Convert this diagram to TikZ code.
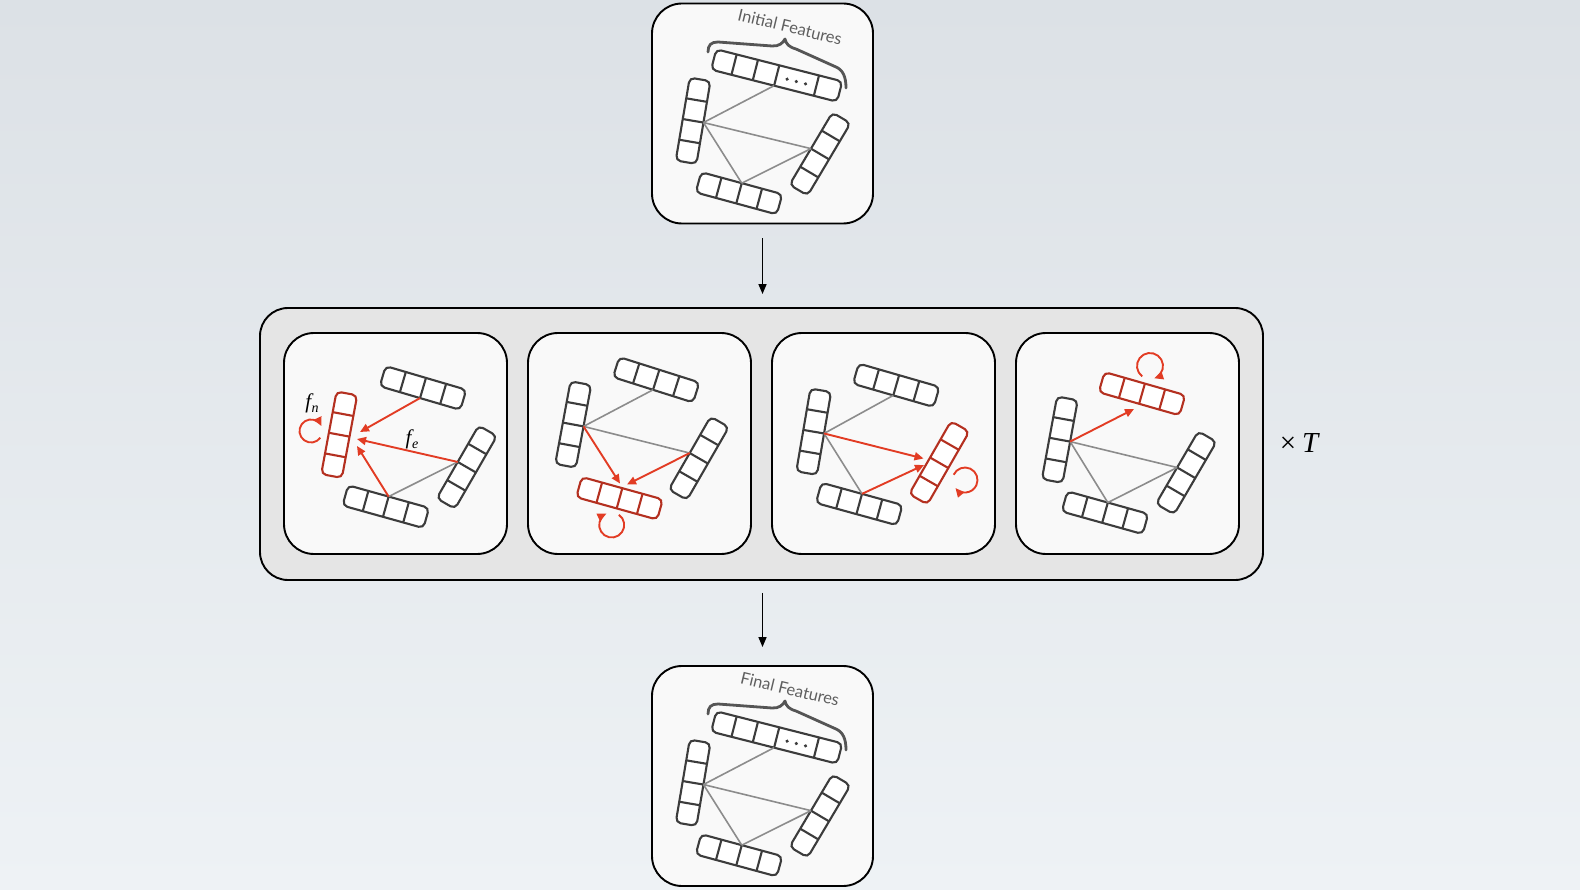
\documentclass[tikz,border=0pt]{standalone}
\usepackage{fontspec}
\newfontfamily\labfont{Lato}
\newfontfamily\mathlikefont{Liberation Serif}
\usetikzlibrary{arrows.meta}
\definecolor{bgtop}{RGB}{220,225,230}
\definecolor{bgbot}{RGB}{238,242,245}
\definecolor{barc}{RGB}{60,60,60}
\definecolor{barred}{RGB}{180,48,32}
\definecolor{arrred}{RGB}{226,60,36}
\definecolor{edgegray}{RGB}{140,140,140}
\definecolor{panelfill}{RGB}{249,249,249}
\definecolor{outerfill}{RGB}{229,229,229}
\definecolor{labgray}{RGB}{95,95,95}
\definecolor{bracec}{RGB}{85,85,85}
\tikzset{
  box/.style={draw=black, line width=1.9pt, fill=panelfill, rounded corners=30pt, inner sep=0pt},
  outerbox/.style={draw=black, line width=1.9pt, fill=outerfill, rounded corners=28pt, inner sep=0pt},
  barline/.style={draw=barc, line width=2.1pt},
  redbar/.style={draw=barred},
  gedge/.style={draw=edgegray, line width=1.6pt},
  redarrow/.style={draw=arrred, line width=1.9pt, -{Triangle[length=9pt,width=8pt]}},
  mainarrow/.style={draw=black, line width=1.5pt, -{Triangle[length=10pt,width=8pt]}},
  bracestyle/.style={draw=bracec, line width=2.8pt, line cap=round, line join=round},
  featlabel/.style={text=labgray, font=\labfont\fontsize{16.5}{20}\selectfont, inner sep=0pt},
  mathlabel/.style={inner sep=0pt},
}
\newcommand\fsub[1]{{\mathlikefont\itshape\fontsize{21}{24}\selectfont f\kern0.5pt\raisebox{-4.5pt}{\fontsize{14}{16}\selectfont #1}}}
\newcommand\fourbar[5][]{%
  \begin{scope}[shift={(#3,#4)},rotate=#5]
    \draw[barline,#1,fill=white,rounded corners=5pt] (-42,-10.5) rectangle (42,10.5);
    \draw[barline,#1] (-21,-10.5) -- (-21,10.5) (0,-10.5) -- (0,10.5) (21,-10.5) -- (21,10.5);
    \coordinate (#2-n) at (0,-10.5);
    \coordinate (#2-s) at (0,10.5);
  \end{scope}}
\newcommand\featgraph[3]{%
  \begin{scope}[shift={(0,#2)}]
    \begin{scope}[shift={(776.7,75.5)},rotate=-14.3]
      \draw[barline,fill=white,rounded corners=5pt] (-65,-10.5) rectangle (65,10.5);
      \draw[barline] (-44,-10.5) -- (-44,10.5) (-22,-10.5) -- (-22,10.5) (0,-10.5) -- (0,10.5) (41,-10.5) -- (41,10.5);
      \fill[barc] (11,1) circle[radius=1.8] (20.5,1) circle[radius=1.8] (30,1) circle[radius=1.8];
      \coordinate (#1T-s) at (0,10.5);
    \end{scope}
    \fourbar{#1L}{693.1}{120.8}{-99.6}
    \fourbar{#1R}{820}{154}{-120.7}
    \fourbar{#1B}{739}{193.3}{-15.2}
    \draw[gedge] (#1L-n) -- (#1T-s) (#1L-n) -- (#1R-s) (#1L-n) -- (#1B-n) (#1B-n) -- (#1R-s);
    \draw[bracestyle] (708,52) .. controls (708,45) and (711,42) .. (718,42) -- (772,46)
      .. controls (779,46.5) and (783,43) .. (785,39) .. controls (786,44) and (789,47) .. (796,49)
      -- (836,67) .. controls (843,70) and (846,77) .. (846,88);
    \node[featlabel, rotate=-13.5] (#1lab) at (790,27) {#3};
  \end{scope}}
\begin{document}
\begin{tikzpicture}[x=1pt,y=-1pt]
\shade[top color=bgtop, bottom color=bgbot] (0,0) rectangle (1580,890);
\useasboundingbox (0,0) rectangle (1580,890);

% boxes
\node[box, minimum width=221pt, minimum height=220pt] (topbox) at (762.5,113.5) {};
\node[box, minimum width=221pt, minimum height=220pt] (botbox) at (762.5,776) {};
\node[outerbox, minimum width=1003pt, minimum height=272pt] (outer) at (761.5,444) {};
\node[box, minimum width=223pt, minimum height=221pt] (panel1) at (395.5,443.5) {};
\node[box, minimum width=223pt, minimum height=221pt] (panel2) at (639.5,443.5) {};
\node[box, minimum width=223pt, minimum height=221pt] (panel3) at (883.5,443.5) {};
\node[box, minimum width=223pt, minimum height=221pt] (panel4) at (1127.5,443.5) {};

% main arrows
\draw[mainarrow, shorten <=14pt, shorten >=13pt] (topbox.south) -- (topbox.south |- outer.north);
\draw[mainarrow, shorten <=12pt, shorten >=18pt] (outer.south -| botbox.north) -- (botbox.north);
\node[inner sep=0pt] (times) at (1299,443) {\mathlikefont\fontsize{29}{32}\selectfont ×\kern6pt\itshape T};

% initial / final features
\featgraph{i}{0}{Initial Features}
\featgraph{f}{662}{Final Features}

% panel 1
\fourbar{p1T}{423}{388}{-16.4}
\fourbar[redbar]{p1L}{339.2}{434.7}{-100.5}
\fourbar{p1R}{466.8}{467.2}{-120}
\fourbar{p1B}{385.8}{506.7}{-15.6}
\coordinate (p1a1) at (360,432);
\coordinate (p1a2) at (357,439);
\coordinate (p1a3) at (357,446);
\coordinate (p1loop) at (311,431);
\draw[gedge] (p1B-n) -- (p1R-s);
\draw[redarrow] (p1T-s) -- (p1a1);
\draw[redarrow] (p1R-s) -- (p1a2);
\draw[redarrow] (p1B-n) -- (p1a3);
\draw[redarrow] (p1loop) ++(36:11.5) arc (36:335:11.5);
\node[mathlabel] (fn) at (312,403) {\fsub{n}};
\node[mathlabel] (fe) at (412,439) {\fsub{e}};

% panel 2
\fourbar{p2T}{656.2}{379.8}{-17.6}
\fourbar{p2L}{573.2}{424.5}{-100.5}
\fourbar{p2R}{698.8}{458.3}{-119.9}
\fourbar[redbar]{p2B}{619.5}{498.3}{-15.5}
\coordinate (p2a1) at (620,483.5);
\coordinate (p2a2) at (627,484.5);
\coordinate (p2loop) at (611.7,525);
\draw[gedge] (p2L-n) -- (p2T-s) (p2L-n) -- (p2R-s);
\draw[redarrow] (p2L-n) -- (p2a1);
\draw[redarrow] (p2R-s) -- (p2a2);
\draw[redarrow] (p2loop) ++(305:12.5) arc (305:605:12.5);

% panel 3
\fourbar{p3T}{896.2}{385.3}{-16.1}
\fourbar{p3L}{813.7}{431.7}{-99.7}
\fourbar[redbar]{p3R}{939.2}{462.8}{-119.9}
\fourbar{p3B}{859.2}{504}{-15.4}
\coordinate (p3a1) at (923.5,458.5);
\coordinate (p3a2) at (924,465);
\coordinate (p3loop) at (965,480);
\draw[gedge] (p3L-n) -- (p3T-s) (p3L-n) -- (p3B-n);
\draw[redarrow] (p3L-n) -- (p3a1);
\draw[redarrow] (p3B-n) -- (p3a2);
\draw[redarrow] (p3loop) ++(205:12.5) arc (205:500:12.5);

% panel 4
\fourbar[redbar]{p4T}{1142}{393.7}{-16}
\fourbar{p4L}{1059.8}{439.7}{-100.4}
\fourbar{p4R}{1186.2}{472.8}{-120.3}
\fourbar{p4B}{1105}{512.7}{-15.6}
\coordinate (p4a1) at (1134,409);
\coordinate (p4loop) at (1150,366);
\draw[gedge] (p4L-n) -- (p4R-s) (p4L-n) -- (p4B-n) (p4B-n) -- (p4R-s);
\draw[redarrow] (p4L-n) -- (p4a1);
\draw[redarrow] (p4loop) ++(127:13) arc (127:431:13);
\end{tikzpicture}
\end{document}
